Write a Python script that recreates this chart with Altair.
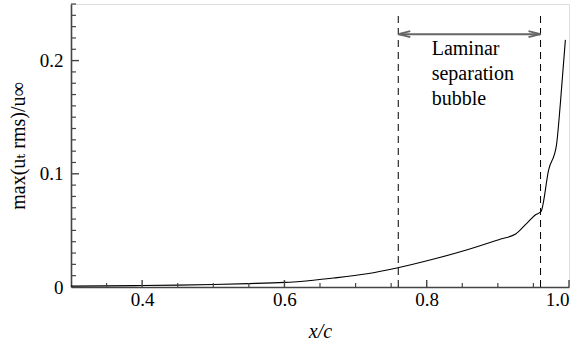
import altair as alt
import pandas as pd

# Curve data
x_vals = [0.30, 0.35, 0.40, 0.45, 0.50, 0.55, 0.60, 0.622, 0.669, 0.716, 0.758,
          0.810, 0.857, 0.904, 0.925, 0.941, 0.953, 0.9607, 0.9714, 0.9822,
          0.9879, 0.9949]
y_vals = [0.0008, 0.0010, 0.0013, 0.0017, 0.0022, 0.0030, 0.0041, 0.0049, 0.0079,
          0.0117, 0.0168, 0.0247, 0.0329, 0.0424, 0.0468, 0.0565, 0.0638, 0.0667,
          0.1035, 0.1247, 0.1624, 0.2183]

# Separation bubble markers
bubble_x = [0.76, 0.96]
bubble_top = 0.24
arrow_y = 0.2233
label_x = 0.807
label_y = 0.205
label_text = "Laminar\nseparation\nbubble"

# Tick positions
x_major = [0.4, 0.6, 0.8, 1.0]
x_minor = [0.35, 0.45, 0.5, 0.55, 0.65, 0.7, 0.75, 0.85, 0.9, 0.95]
y_major = [0.1, 0.2]
y_minor = [0.01, 0.02, 0.03, 0.04, 0.05, 0.06, 0.07, 0.08, 0.09,
           0.11, 0.12, 0.13, 0.14, 0.15, 0.16, 0.17, 0.18, 0.19,
           0.21, 0.22, 0.23, 0.24, 0.25]
y_labels = [0, 0.1, 0.2]

FONT = "Liberation Serif, Times New Roman, DejaVu Serif, serif"
AX = "#444444"
W, H = 498, 283

xs = alt.Scale(domain=[0.3, 1.0], nice=False, zero=False)
ys = alt.Scale(domain=[0, 0.25], nice=False, zero=False)

curve_df = pd.DataFrame({"x": x_vals, "y": y_vals})

xaxis = alt.Axis(values=x_major, format=".1f", title="x/c", grid=False, ticks=False,
                 domain=True, domainColor=AX, domainWidth=1.6,
                 labelFont=FONT, labelFontSize=19, labelColor="black", labelPadding=3,
                 titleFont=FONT, titleFontSize=20, titleFontStyle="italic",
                 titleFontWeight="normal", titleColor="black", titlePadding=12)
yaxis = alt.Axis(values=y_labels, labelExpr="datum.value == 0 ? '0' : format(datum.value, '.1f')",
                 title="max(uₜ rms)/u∞", grid=False, ticks=False,
                 domain=True, domainColor=AX, domainWidth=1.6,
                 labelFont=FONT, labelFontSize=19, labelColor="black", labelPadding=8,
                 titleFont=FONT, titleFontSize=20, titleFontWeight="normal",
                 titleColor="black", titlePadding=11)

curve = alt.Chart(curve_df).mark_line(color="black", strokeWidth=1.1, interpolate="monotone").encode(
    x=alt.X("x:Q", scale=xs, axis=xaxis),
    y=alt.Y("y:Q", scale=ys, axis=yaxis),
)

# Inward ticks
xmaj = alt.Chart(pd.DataFrame({"x": x_major})).mark_rule(color=AX, strokeWidth=1.4).encode(
    x=alt.X("x:Q", scale=xs), y=alt.value(H), y2=alt.value(H - 7))
xmin = alt.Chart(pd.DataFrame({"x": x_minor})).mark_rule(color=AX, strokeWidth=1.2).encode(
    x=alt.X("x:Q", scale=xs), y=alt.value(H), y2=alt.value(H - 4))
ymaj = alt.Chart(pd.DataFrame({"y": y_major})).mark_rule(color=AX, strokeWidth=1.4).encode(
    y=alt.Y("y:Q", scale=ys), x=alt.value(0), x2=alt.value(8))
ymin = alt.Chart(pd.DataFrame({"y": y_minor})).mark_rule(color=AX, strokeWidth=1.2).encode(
    y=alt.Y("y:Q", scale=ys), x=alt.value(0), x2=alt.value(5))

# Dashed lines
dash_df = pd.DataFrame({"x": bubble_x, "y0": [0, 0], "y1": [bubble_top, bubble_top]})
dashes = alt.Chart(dash_df).mark_rule(color="black", strokeWidth=1, strokeDash=[7, 5]).encode(
    x=alt.X("x:Q", scale=xs), y=alt.Y("y0:Q", scale=ys), y2="y1:Q")

# Arrow
arrow_df = pd.DataFrame({"x0": [bubble_x[0]], "x1": [bubble_x[1]], "y": [arrow_y]})
arrow = alt.Chart(arrow_df).mark_rule(color="#666666", strokeWidth=2).encode(
    x=alt.X("x0:Q", scale=xs), x2="x1:Q", y=alt.Y("y:Q", scale=ys))
head_r = alt.Chart(pd.DataFrame({"x": [bubble_x[1]], "y": [arrow_y]})).mark_point(
    shape="M0,0L-2,-0.5M0,0L-2,0.5", size=144, filled=False, color="#666666", strokeWidth=1.8, opacity=1
).encode(x=alt.X("x:Q", scale=xs), y=alt.Y("y:Q", scale=ys))
head_l = alt.Chart(pd.DataFrame({"x": [bubble_x[0]], "y": [arrow_y]})).mark_point(
    shape="M0,0L2,-0.5M0,0L2,0.5", size=144, filled=False, color="#666666", strokeWidth=1.8, opacity=1
).encode(x=alt.X("x:Q", scale=xs), y=alt.Y("y:Q", scale=ys))

label = alt.Chart(pd.DataFrame({"x": [label_x], "y": [label_y], "t": [label_text]})).mark_text(
    align="left", baseline="alphabetic", font=FONT, fontSize=20, lineHeight=25,
    lineBreak="\n", color="black"
).encode(x=alt.X("x:Q", scale=xs), y=alt.Y("y:Q", scale=ys), text="t:N")

chart = alt.layer(dashes, curve, xmaj, xmin, ymaj, ymin, arrow, head_r, head_l, label).properties(
    width=W, height=H,
    padding={"left": 71, "top": 4, "right": 14, "bottom": 61},
    autosize=alt.AutoSizeParams(type="none"),
).configure_view(stroke=None).configure(background="white", font=FONT)

chart.save("out.html", embed_options={"renderer": "svg", "actions": False})
